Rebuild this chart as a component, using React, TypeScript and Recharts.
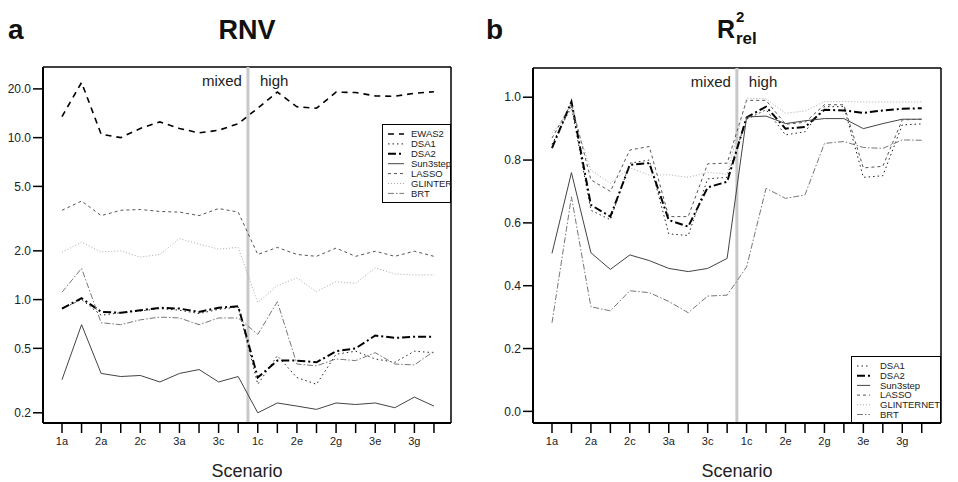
import React from 'react';
import {
  LineChart,
  Line,
  XAxis,
  YAxis,
  ReferenceLine,
  Legend,
} from 'recharts';

// scenario codes, mixed (first 10) then high (last 10)
const scenarios = ['1a', '1b', '2a', '2b', '2c', '2d', '3a', '3b', '3c', '3d',
  '1c', '1d', '2e', '2f', '2g', '2h', '3e', '3f', '3g', '3h'];

// panel a: RNV (log scale)
const ewas2Rnv = [13.5, 21.9, 10.5, 10.0, 11.4, 12.5, 11.4, 10.7, 11.1, 12.2, 15.2, 19.1, 15.5, 15.2, 19.1, 19.0, 18.1, 18.0, 18.8, 19.2];
const dsa1Rnv = [0.88, 1.0, 0.8, 0.83, 0.85, 0.88, 0.86, 0.82, 0.87, 0.9, 0.3, 0.45, 0.33, 0.3, 0.46, 0.48, 0.43, 0.41, 0.48, 0.47];
const dsa2Rnv = [0.88, 1.02, 0.84, 0.83, 0.86, 0.89, 0.88, 0.84, 0.89, 0.91, 0.33, 0.42, 0.42, 0.41, 0.48, 0.5, 0.6, 0.58, 0.59, 0.59];
const sunRnv = [0.32, 0.7, 0.35, 0.335, 0.34, 0.31, 0.35, 0.37, 0.31, 0.335, 0.2, 0.23, 0.22, 0.21, 0.23, 0.225, 0.23, 0.215, 0.25, 0.22];
const lassoRnv = [3.56, 4.06, 3.3, 3.56, 3.6, 3.5, 3.47, 3.3, 3.65, 3.47, 1.9, 2.1, 1.9, 1.85, 2.08, 1.85, 1.99, 1.85, 1.99, 1.85];
const glinterRnv = [1.96, 2.26, 1.97, 2.0, 1.83, 1.9, 2.38, 2.2, 2.05, 2.1, 0.96, 1.22, 1.36, 1.12, 1.29, 1.26, 1.57, 1.44, 1.42, 1.42];
const brtRnv = [1.11, 1.56, 0.72, 0.7, 0.75, 0.78, 0.77, 0.7, 0.77, 0.77, 0.61, 0.97, 0.4, 0.39, 0.43, 0.42, 0.47, 0.4, 0.395, 0.48];

// panel b: R2 rel
const dsa1R2 = [0.85, 0.97, 0.64, 0.61, 0.79, 0.8, 0.565, 0.56, 0.74, 0.745, 0.93, 0.96, 0.88, 0.89, 0.97, 0.97, 0.745, 0.75, 0.912, 0.915];
const dsa2R2 = [0.838, 0.986, 0.657, 0.62, 0.785, 0.79, 0.609, 0.588, 0.713, 0.731, 0.936, 0.97, 0.9, 0.905, 0.96, 0.958, 0.95, 0.958, 0.963, 0.965];
const sunR2 = [0.503, 0.76, 0.505, 0.452, 0.498, 0.48, 0.455, 0.445, 0.455, 0.487, 0.937, 0.94, 0.916, 0.925, 0.932, 0.932, 0.9, 0.916, 0.93, 0.93];
const lassoR2 = [0.87, 0.98, 0.737, 0.7, 0.832, 0.843, 0.62, 0.62, 0.788, 0.79, 0.99, 0.99, 0.914, 0.92, 0.976, 0.976, 0.775, 0.78, 0.928, 0.93];
const glintR2 = [0.885, 0.96, 0.768, 0.726, 0.775, 0.752, 0.753, 0.745, 0.761, 0.755, 0.997, 0.995, 0.949, 0.956, 0.986, 0.986, 0.985, 0.985, 0.985, 0.985];
const brtR2 = [0.282, 0.683, 0.333, 0.32, 0.384, 0.378, 0.35, 0.314, 0.367, 0.37, 0.46, 0.71, 0.678, 0.689, 0.853, 0.859, 0.84, 0.837, 0.864, 0.863];

const rnvTicks = [0.2, 0.5, 1, 2, 5, 10, 20];
const r2Ticks = [0, 0.2, 0.4, 0.6, 0.8, 1.0];
const xTicks = scenarios.map((_, i) => i);

const FONT = '"Liberation Sans", Arial, sans-serif';

const lineStyle = {
  EWAS2: { stroke: '#000', width: 1.6, dash: '6 5' },
  DSA1: { stroke: '#222', width: 1, dash: '1.5 3' },
  DSA2: { stroke: '#000', width: 2, dash: '8 3 2 3' },
  Sun3step: { stroke: '#444', width: 1, dash: undefined },
  LASSO: { stroke: '#555', width: 1, dash: '3 3' },
  GLINTER: { stroke: '#aaa', width: 1, dash: '1 2' },
  GLINTERNET: { stroke: '#aaa', width: 1, dash: '1 2' },
  BRT: { stroke: '#777', width: 1, dash: '6 2 1.5 2' },
};

const rnvRows = scenarios.map((s, i) => ({
  idx: i,
  scenario: s,
  EWAS2: ewas2Rnv[i],
  DSA1: dsa1Rnv[i],
  DSA2: dsa2Rnv[i],
  Sun3step: sunRnv[i],
  LASSO: lassoRnv[i],
  GLINTER: glinterRnv[i],
  BRT: brtRnv[i],
}));

const r2Rows = scenarios.map((s, i) => ({
  idx: i,
  scenario: s,
  DSA1: dsa1R2[i],
  DSA2: dsa2R2[i],
  Sun3step: sunR2[i],
  LASSO: lassoR2[i],
  GLINTERNET: glintR2[i],
  BRT: brtR2[i],
}));

const LegendBox = ({ names, width, height, gap, lineEnd }) => (
  <svg width={width} height={height} style={{ display: 'block' }}>
    <rect x={0.5} y={0.5} width={width - 1} height={height - 1} fill="#fff" stroke="#000" strokeWidth={1} />
    {names.map((n, k) => {
      const st = lineStyle[n];
      const y = 10 + k * gap;
      return (
        <g key={n}>
          <line x1={6} x2={lineEnd} y1={y} y2={y} stroke={st.stroke} strokeWidth={st.width} strokeDasharray={st.dash} />
          <text x={29} y={y + 3.3} fontSize={9.5} fill="#222" fontFamily={FONT}>{n}</text>
        </g>
      );
    })}
  </svg>
);

const Regime = ({ viewBox }) => {
  if (!viewBox) return null;
  const x = viewBox.x;
  const y = viewBox.y + 19;
  return (
    <g fontFamily={FONT} fontSize={15} fill="#222">
      <text x={x - 6} y={y} textAnchor="end">mixed</text>
      <text x={x + 12} y={y} textAnchor="start">high</text>
    </g>
  );
};

const ScenarioLabel = ({ viewBox }) => {
  if (!viewBox) return null;
  return (
    <text x={viewBox.x + viewBox.width / 2} y={viewBox.y + 54} textAnchor="middle"
      fontSize={18} fontFamily={FONT} fill="#222">Scenario</text>
  );
};

const Panel = ({ rows, names, left, yWidth, marginTop, marginRight, xDomain, yDomain, yTicks, logY, legendPos }) => (
  <div style={{ position: 'absolute', left, top: 0 }}>
    <LineChart width={479} height={482} data={rows}
      margin={{ top: marginTop, right: marginRight, bottom: 0, left: 0 }}>
      <XAxis type="number" dataKey="idx" domain={xDomain} allowDataOverflow
        ticks={xTicks} interval={0} height={59}
        tickFormatter={(v) => (v % 2 === 0 ? scenarios[v] : '')}
        tickSize={10} tickMargin={4}
        axisLine={{ stroke: '#000', strokeWidth: 2 }}
        tickLine={{ stroke: '#000', strokeWidth: 1.5 }}
        tick={{ fontSize: 11, fill: '#222', fontFamily: FONT }}
        label={<ScenarioLabel />} />
      <YAxis type="number" scale={logY ? 'log' : 'auto'} domain={yDomain} allowDataOverflow
        ticks={yTicks} interval={0} width={yWidth}
        tickFormatter={(v) => Number(v).toFixed(1)}
        tickSize={10} tickMargin={2}
        axisLine={{ stroke: '#000', strokeWidth: 2 }}
        tickLine={{ stroke: '#000', strokeWidth: 1.5 }}
        tick={{ fontSize: 12, fill: '#222', fontFamily: FONT }} />
      {/* top and right frame */}
      <ReferenceLine y={yDomain[1]} stroke="#000" strokeWidth={1.5} ifOverflow="visible" />
      <ReferenceLine x={xDomain[1]} stroke="#000" strokeWidth={1.5} ifOverflow="visible" />
      <ReferenceLine x={9.5} stroke="#c8c8c8" strokeWidth={3} label={<Regime />} />
      {names.map((n) => (
        <Line key={n} type="linear" dataKey={n} stroke={lineStyle[n].stroke}
          strokeWidth={lineStyle[n].width} strokeDasharray={lineStyle[n].dash}
          dot={false} activeDot={false} isAnimationActive={false} />
      ))}
      <Legend layout="horizontal" verticalAlign="middle" align="center"
        wrapperStyle={{ position: 'absolute', left: legendPos.left, top: legendPos.top, width: legendPos.width, height: legendPos.height }}
        content={() => (
          <LegendBox names={names} width={legendPos.width} height={legendPos.height}
            gap={legendPos.gap} lineEnd={legendPos.lineEnd} />
        )} />
    </LineChart>
  </div>
);

export default function App() {
  return (
    <div style={{ position: 'absolute', left: 0, top: 0, width: 958, height: 482, background: '#fff', overflow: 'hidden' }}>
      <svg width={958} height={60} style={{ position: 'absolute', left: 0, top: 0 }}>
        <g fontFamily={FONT} fontWeight="bold" fill="#111">
          <text x={8} y={39} fontSize={28}>a</text>
          <text x={247} y={39} fontSize={27} textAnchor="middle">RNV</text>
          <text x={486} y={39} fontSize={28}>b</text>
          <text x={717} y={38} fontSize={25}>R</text>
          <text x={736} y={22} fontSize={15}>2</text>
          <text x={736} y={44} fontSize={17}>rel</text>
        </g>
      </svg>
      <Panel rows={rnvRows} names={['EWAS2', 'DSA1', 'DSA2', 'Sun3step', 'LASSO', 'GLINTER', 'BRT']}
        left={0} yWidth={43} marginTop={67} marginRight={28}
        xDomain={[-0.97, 19.87]} yDomain={[0.173, 27.3]} yTicks={rnvTicks} logY
        legendPos={{ left: 382, top: 124, width: 69, height: 79, gap: 9.9, lineEnd: 22 }} />
      <Panel rows={r2Rows} names={['DSA1', 'DSA2', 'Sun3step', 'LASSO', 'GLINTERNET', 'BRT']}
        left={479} yWidth={54} marginTop={68} marginRight={17}
        xDomain={[-0.976, 19.99]} yDomain={[-0.037, 1.093]} yTicks={r2Ticks} logY={false}
        legendPos={{ left: 372, top: 356, width: 90, height: 67, gap: 9.7, lineEnd: 19 }} />
    </div>
  );
}
